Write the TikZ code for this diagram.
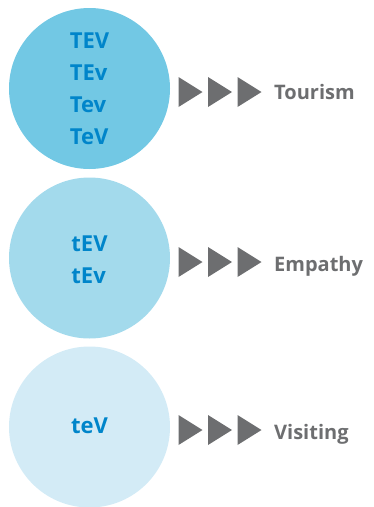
\documentclass[tikz,border=0pt]{standalone}
\usepackage{fontspec}
\setmainfont{Open Sans}
\definecolor{circA}{RGB}{114,200,228}
\definecolor{circB}{RGB}{163,218,236}
\definecolor{circC}{RGB}{211,235,246}
\definecolor{txtblue}{RGB}{0,133,202}
\definecolor{greyc}{RGB}{109,110,112}
\tikzset{
  bubble/.style={circle, inner sep=0pt, minimum size=161pt},
  inner/.style={text=txtblue, align=left, font=\bfseries\fontsize{22}{32}\selectfont},
  label/.style={anchor=base west, text=greyc, inner sep=0pt, font=\bfseries\fontsize{20}{24}\selectfont},
  tri/.pic={\fill[greyc] (0,-15) -- (24,0) -- (0,15) -- cycle;},
}
\begin{document}
\begin{tikzpicture}[x=1pt,y=-1pt]
\useasboundingbox (0,0) rectangle (373,507);
% circles
\node[bubble, fill=circA] (c1) at (89.5,88.5) {};
\node[bubble, fill=circB] (c2) at (89.5,258) {};
\node[bubble, fill=circC] (c3) at (89.5,427) {};
\node[inner] (t1) at (c1) {TEV\\TEv\\Tev\\TeV};
\node[inner] (t2) at ([yshift=-2pt]c2) {tEV\\tEv};
\node[inner] (t3) at ([yshift=1pt]c3) {teV};
% triangles
\foreach \y in {92,262,430}{
  \foreach \dx in {0,29.5,59}{
    \pic at (178.5+\dx,\y) {tri};
  }
}
% labels
\node[label] (l1) at (274,99) {Tourism};
\node[label] (l2) at (274,271) {Empathy};
\node[label] (l3) at (274,439) {Visiting};
\end{tikzpicture}
\end{document}
